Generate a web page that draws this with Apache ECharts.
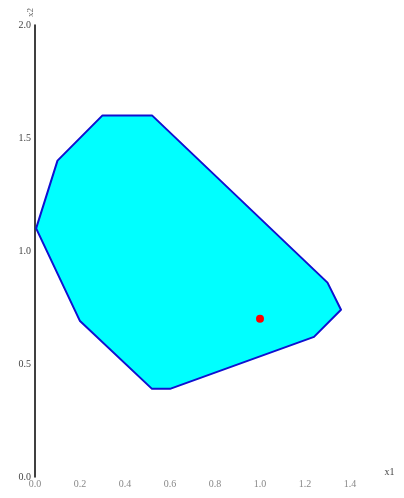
<!DOCTYPE html>
<html>
<head>
<meta charset="utf-8">
<script src="https://cdn.jsdelivr.net/npm/echarts@6/dist/echarts.min.js"></script>
<style>
  html, body { margin: 0; padding: 0; background: #fff; }
  #main { width: 404px; height: 498px; }
</style>
</head>
<body>
<div id="main"></div>
<script>
// vertices of the feasible region (x1, x2)
var regionX = [0.005, 0.1, 0.3, 0.52, 1.3, 1.36, 1.24, 0.6, 0.52, 0.2];
var regionY = [1.1, 1.4, 1.6, 1.6, 0.86, 0.74, 0.62, 0.39, 0.39, 0.69];
// the red point
var pointX = [1.0];
var pointY = [0.7];

var regionData = regionX.map(function (x, i) { return [x, regionY[i]]; });
var pointData = pointX.map(function (x, i) { return [x, pointY[i]]; });

var myChart = echarts.init(document.getElementById('main'));

var labelFont = 'Liberation Serif';

var option = {
    animation: false,
    grid: { left: 35, right: 31.5, top: 25, bottom: 21 },
    xAxis: {
        type: 'value',
        min: 0, max: 1.5, interval: 0.2,
        name: 'x1',
        nameGap: 12,
        nameTextStyle: { fontFamily: labelFont, fontSize: 10, color: '#444', verticalAlign: 'bottom' },
        axisLine: { show: false },
        axisTick: { show: false },
        splitLine: { show: false },
        axisLabel: {
            fontFamily: labelFont, fontSize: 10, color: '#888', margin: 2,
            showMaxLabel: false,
            formatter: function (v) { return v.toFixed(1); }
        }
    },
    yAxis: {
        type: 'value',
        min: 0, max: 2, interval: 0.5,
        name: 'x2',
        nameRotate: 90,
        nameGap: 4,
        nameTextStyle: { fontFamily: labelFont, fontSize: 9, color: '#666', align: 'left', verticalAlign: 'bottom' },
        axisLine: { show: true, onZero: false, lineStyle: { color: '#000', width: 1.5 } },
        axisTick: { show: false },
        splitLine: { show: false },
        axisLabel: {
            fontFamily: labelFont, fontSize: 10, color: '#444', margin: 4,
            formatter: function (v) { return v.toFixed(1); }
        }
    },
    series: [
        {
            type: 'custom',
            data: regionData,
            renderItem: function (params, api) {
                if (params.dataIndex !== 0) return;
                var pts = regionData.map(function (d) { return api.coord(d); });
                return {
                    type: 'polygon',
                    shape: { points: pts },
                    style: { fill: '#00ffff', stroke: '#1010d0', lineWidth: 2, lineJoin: 'round' }
                };
            },
            z: 2
        },
        {
            type: 'scatter',
            data: pointData,
            symbolSize: 8,
            itemStyle: { color: '#ff0000', opacity: 1 },
            z: 3
        }
    ]
};

myChart.setOption(option);
</script>
</body>
</html>
